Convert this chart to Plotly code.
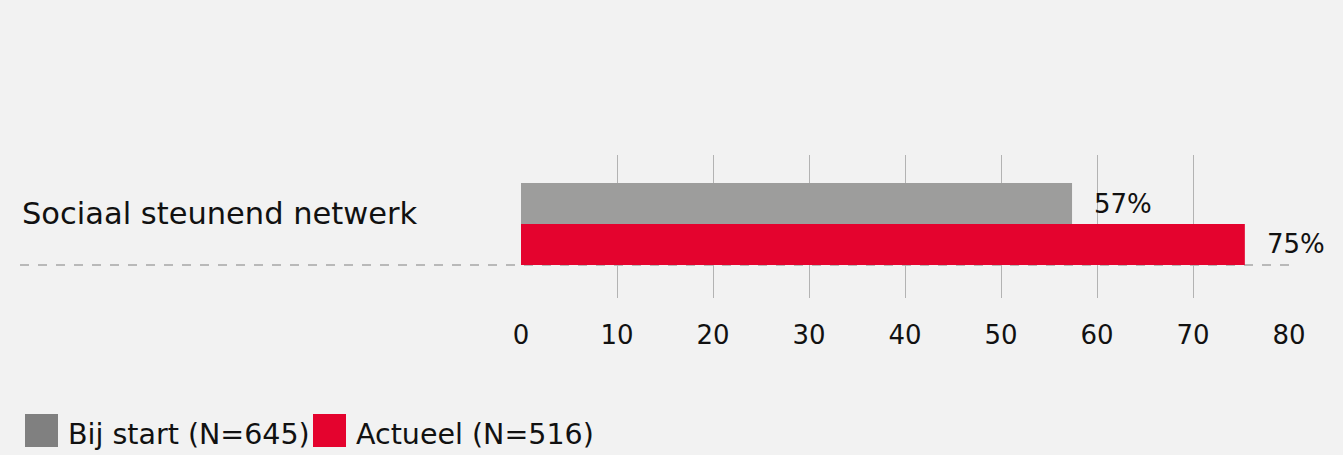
import plotly.graph_objects as go

categories = ["Sociaal steunend netwerk"]
series_names = ["Bij start (N=645)", "Actueel (N=516)"]
start_values = [57.4]
current_values = [75.4]
bar_colors = ["#9d9d9c", "#e4032e"]
legend_colors = ["#808080", "#e4032e"]
tick_values = [0, 10, 20, 30, 40, 50, 60, 70, 80]

FONT = "DejaVu Sans"
W, H = 1343, 455
ML, MR, MT, MB = 521, 54, 155, 157

fig = go.Figure()
# plotly stacks grouped horizontal bars bottom-up, so add the lower bar first
for name, vals, col in reversed(list(zip(series_names, [start_values, current_values], bar_colors))):
    fig.add_trace(go.Bar(
        y=categories, x=vals, name=name, orientation="h",
        marker=dict(color=col, line=dict(width=0)),
        showlegend=False, hoverinfo="skip",
    ))

# value labels
for i, vals in enumerate([start_values, current_values]):
    for cat, v in zip(categories, vals):
        fig.add_annotation(
            x=v, y=cat, xref="x", yref="y", text=f"{round(v)}%",
            showarrow=False, xanchor="left", yanchor="middle",
            xshift=20, yshift=(20 if i == 0 else -20),
            font=dict(family=FONT, size=26, color="#111111"),
        )

pw = W - ML - MR
ph = H - MT - MB
def px_x(x):
    return (x - ML) / pw
def px_y(y):
    return (H - MB - y) / ph

# dashed category separator
fig.add_shape(type="line", xref="paper", yref="paper",
              x0=px_x(20), x1=1, y0=px_y(265), y1=px_y(265),
              line=dict(color="#a6a6a6", width=1.3, dash="dash"), layer="below")

# category label
fig.add_annotation(x=px_x(20), y=px_y(213), xref="paper", yref="paper",
                   text=categories[0], showarrow=False, xanchor="left", yanchor="middle",
                   font=dict(family=FONT, size=30.5, color="#111111"))

# legend (manual)
legend_items = [(25, 66), (313, 354)]
for (sx, tx), name, col in zip(legend_items, series_names, legend_colors):
    fig.add_shape(type="rect", xref="paper", yref="paper",
                  x0=px_x(sx), x1=px_x(sx + 33), y0=px_y(447), y1=px_y(414),
                  fillcolor=col, line=dict(width=0))
    fig.add_annotation(x=px_x(tx), y=px_y(434), xref="paper", yref="paper",
                       text=name, showarrow=False, xanchor="left", yanchor="middle",
                       font=dict(family=FONT, size=28.5, color="#111111"))

fig.update_layout(
    width=W, height=H,
    margin=dict(l=ML, r=MR, t=MT, b=MB, pad=0),
    paper_bgcolor="#f2f2f2", plot_bgcolor="#f2f2f2",
    barmode="group", bargap=0.427, bargroupgap=0,
    xaxis=dict(range=[0, 80], tickvals=tick_values, showgrid=True,
               gridcolor="#b3b3b3", gridwidth=1, zeroline=False, showline=False,
               ticks="", tickfont=dict(family=FONT, size=26, color="#111111"),
               ticklabelstandoff=19),
    yaxis=dict(showticklabels=False, showgrid=False, zeroline=False,
               range=[-0.5 - 0.0175, 0.5 - 0.0175], autorange=False),
    showlegend=False,
)

fig.write_html("out.html", config={"displayModeBar": False},
               post_script="document.body.style.margin='0';document.body.style.background='#f2f2f2';")
